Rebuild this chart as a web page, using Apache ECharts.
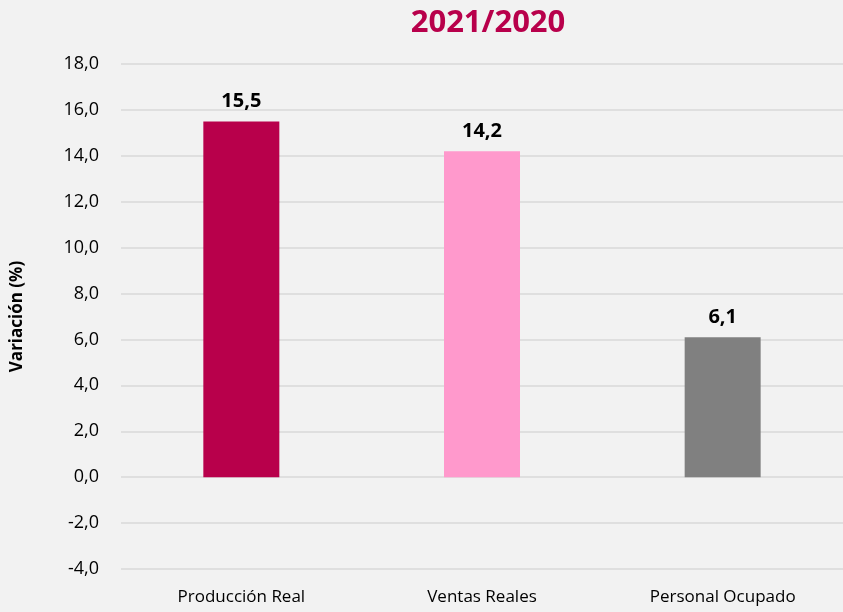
<!DOCTYPE html>
<html>
<head>
<meta charset="utf-8">
<script src="https://cdn.jsdelivr.net/npm/echarts@6/dist/echarts.min.js"></script>
<style>
  html, body { margin: 0; padding: 0; background: #f2f2f2; }
  #chart { width: 843px; height: 612px; }
</style>
</head>
<body>
<div id="chart"></div>
<script>
const categories = ["Producción Real", "Ventas Reales", "Personal Ocupado"];
const values = [15.5, 14.2, 6.1];
const barColors = ["#b8004b", "#ff99cc", "#808080"];

const chart = echarts.init(document.getElementById("chart"));
const fmt = (v) => v.toFixed(1).replace(".", ",");

chart.setOption({
  backgroundColor: "#f2f2f2",
  textStyle: { fontFamily: "Open Sans" },
  title: {
    text: "2021/2020",
    left: 483,
    top: 3,
    textAlign: "center",
    textStyle: { color: "#b8004b", fontSize: 31, fontWeight: "bold", fontFamily: "Open Sans" },
  },
  grid: { left: 121, right: 0, top: 64, bottom: 43 },
  xAxis: {
    type: "category",
    data: categories,
    axisLine: { show: false },
    axisTick: { show: false },
    axisLabel: { color: "#000", fontSize: 17, margin: 20 },
  },
  yAxis: {
    type: "value",
    min: -4,
    max: 18,
    interval: 2,
    name: "Variación (%)",
    nameLocation: "middle",
    nameGap: 95,
    nameTextStyle: { color: "#000", fontSize: 17, fontWeight: "bold" },
    axisLine: { show: false },
    axisTick: { show: false },
    axisLabel: { color: "#000", fontSize: 18, margin: 22, formatter: fmt },
    splitLine: { lineStyle: { color: "#d9d9d9", width: 1.5 } },
  },
  series: [
    {
      type: "bar",
      barWidth: 76,
      data: values.map((v, i) => ({ value: v, itemStyle: { color: barColors[i] } })),
      label: {
        show: true,
        position: "top",
        distance: 10,
        color: "#000",
        fontSize: 20,
        fontWeight: "bold",
        formatter: (p) => fmt(p.value),
      },
    },
  ],
});
</script>
</body>
</html>
